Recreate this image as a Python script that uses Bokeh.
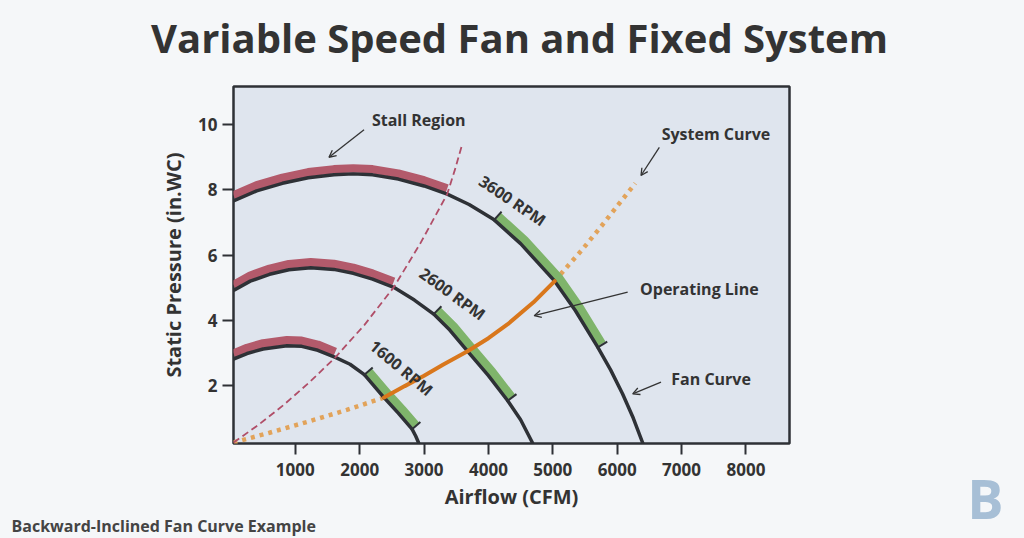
import numpy as np
from bokeh.plotting import figure
from bokeh.layouts import row, column
from bokeh.models import (Range1d, Label, Arrow, OpenHead, FixedTicker, ColumnDataSource, Title)
from bokeh.core.properties import value
from bokeh.transform import dodge
from bokeh.embed import file_html
from bokeh.resources import INLINE

# ---------------- data ----------------
x_ticks = [1000, 2000, 3000, 4000, 5000, 6000, 7000, 8000]
y_ticks = [2, 4, 6, 8, 10]

fan_labels = ["3600 RPM", "2600 RPM", "1600 RPM"]

fan3600_cfm = [40, 400, 800, 1200, 1600, 1900, 2200, 2600, 3000, 3360, 3700, 4090,
               4500, 5030, 5350, 5700, 5900, 6085, 6250, 6400]
fan3600_sp = [7.66, 7.97, 8.20, 8.37, 8.46, 8.49, 8.46, 8.33, 8.12, 7.87, 7.55, 7.08,
              6.35, 5.20, 4.30, 3.17, 2.47, 1.74, 1.00, 0.22]

fan2600_cfm = [40, 300, 600, 900, 1240, 1600, 1900, 2200, 2529, 2850, 3150, 3400,
               3675, 4000, 4300, 4500, 4690]
fan2600_sp = [4.91, 5.20, 5.41, 5.55, 5.61, 5.56, 5.44, 5.26, 5.01, 4.62, 4.19, 3.70,
              3.05, 2.30, 1.53, 0.95, 0.22]

fan1600_cfm = [40, 250, 500, 870, 1100, 1350, 1622, 1850, 2073, 2378, 2600, 2814, 2870, 2920]
fan1600_sp = [2.81, 2.98, 3.12, 3.22, 3.20, 3.08, 2.86, 2.65, 2.33, 1.63, 1.15, 0.66, 0.45, 0.22]

# stall (red) band: from curve start up to this airflow
stall_band_end = [3360, 2529, 1622]
# recommended (green) band
green_band_start = [4090, 3150, 2073]
green_band_end = [5700, 4300, 2814]

stall_cfm = [40, 420, 818, 1220, 1622, 2075, 2529, 2940, 3360, 3480, 3597]
stall_sp = [0.25, 0.78, 1.40, 2.10, 2.86, 3.86, 5.01, 6.35, 7.87, 8.62, 9.43]

system_cfm = [40, 600, 1180, 1800, 2378, 2700, 3000, 3300, 3675, 4000, 4300, 4700,
              5030, 5178, 5450, 5748, 6020, 6282]
system_sp = [0.25, 0.55, 0.88, 1.25, 1.63, 1.98, 2.30, 2.64, 3.05, 3.45, 3.88, 4.55,
             5.20, 5.54, 6.15, 6.87, 7.55, 8.20]
operating_lo, operating_hi = 2378, 5030

rpm_label_x = [4375, 3442, 2649]
rpm_label_y = [7.67, 4.81, 2.54]
rpm_label_angle = [-34, -36, -40]

note_text = ["Stall Region", "System Curve", "Operating Line", "Fan Curve"]
note_x = [2918, 7535, 7277, 7459]
note_y = [10.15, 9.72, 4.96, 2.20]
arrow_x0 = [2068, 6655, 6163, 6681]
arrow_y0 = [9.84, 9.30, 4.86, 2.10]
arrow_x1 = [1523, 6370, 4711, 6241]
arrow_y1 = [9.00, 8.44, 4.14, 1.74]

title_text = "Variable Speed Fan and Fixed System"
footnote_text = "Backward-Inclined Fan Curve Example"
logo_text = "B"

# ---------------- styles ----------------
FONT = "Open Sans"
DARK = "#2e3136"
TXT = "#333333"
RED = "#b35a6b"
GREEN = "#7fb46b"
STALL = "#b04e68"
SYS_DOT = "#e2a35a"
OP = "#d9771c"
BG = "#f5f7f9"

X0, X1 = 40, 8677
Y0, Y1 = 0.22, 11.17
FW, FH = 556, 357
SX = FW / (X1 - X0)
SY = FH / (Y1 - Y0)

W, H = 1024, 538
TOP_H = 70
SIDE_W = 64
MAIN_W = W - SIDE_W
MAIN_H = H - TOP_H


def strip(width, height):
    f = figure(width=width, height=height, x_range=Range1d(0, width), y_range=Range1d(0, height),
               output_backend="svg", toolbar_location=None, x_axis_type=None,
               y_axis_type=None, min_border=0, outline_line_color=None,
               background_fill_color=BG, border_fill_color=BG)
    f.grid.visible = False
    if "frame_align" in f.properties():
        f.frame_align = False
    return f


p = figure(width=MAIN_W, height=MAIN_H, x_range=Range1d(X0, X1), y_range=Range1d(Y0, Y1),
           output_backend="svg", toolbar_location=None,
           min_border_left=233, min_border_right=MAIN_W - 233 - FW, min_border_top=86 - TOP_H,
           min_border_bottom=95,
           background_fill_color="#dfe5ee", border_fill_color=BG,
           outline_line_color=DARK, outline_line_width=2.5)
if "frame_align" in p.properties():
    p.frame_align = False
p.xgrid.visible = False
p.ygrid.visible = False

for ax, ticks in ((p.xaxis, x_ticks), (p.yaxis, y_ticks)):
    ax.ticker = FixedTicker(ticks=ticks)
    ax.axis_line_color = None
    ax.major_tick_out = 11
    ax.major_tick_in = 0
    ax.minor_tick_out = 0
    ax.minor_tick_in = 0
    ax.major_tick_line_color = DARK
    ax.major_tick_line_width = 2
    ax.major_label_text_font = FONT
    ax.major_label_text_font_style = "bold"
    ax.major_label_text_font_size = "17px"
    ax.major_label_text_color = TXT
    ax.axis_label_text_font = FONT
    ax.axis_label_text_font_style = "bold"
    ax.axis_label_text_font_size = "20px"
    ax.axis_label_text_color = TXT

p.xaxis.axis_label = "Airflow (CFM)"
p.yaxis.axis_label = "Static Pressure (in.WC)"
p.xaxis.major_label_standoff = 8
p.xaxis.axis_label_standoff = 4
p.yaxis.major_label_standoff = 5
p.yaxis.axis_label_standoff = 8

p.add_layout(Title(text=footnote_text, align="left", offset=-222, standoff=0,
                   text_font=FONT, text_font_style="bold", text_font_size="16px",
                   text_color="#444444"), "below")

fans = [(fan3600_cfm, fan3600_sp), (fan2600_cfm, fan2600_sp), (fan1600_cfm, fan1600_sp)]


def seg(xs, ys, lo, hi):
    xs = np.asarray(xs, float)
    ys = np.asarray(ys, float)
    m = (xs >= lo) & (xs <= hi)
    return xs[m], ys[m]


# system curve: dotted parts
sx_lo, sy_lo = seg(system_cfm, system_sp, 0, operating_lo)
sx_hi, sy_hi = seg(system_cfm, system_sp, operating_hi, 1e9)
for xs, ys in ((sx_lo, sy_lo), (sx_hi, sy_hi)):
    p.line(xs, ys, line_color=SYS_DOT, line_width=4.5, line_dash="4 5")

# bands
for (cx, cy), r_end, g0, g1 in zip(fans, stall_band_end, green_band_start, green_band_end):
    rx, ry = seg(cx, cy, 0, r_end)
    src = ColumnDataSource(dict(x=rx, y=ry))
    p.line(x="x", y=dodge("y", 5.5 / SY, range=p.y_range), source=src,
           line_color=RED, line_width=8.5)
    gx, gy = seg(cx, cy, g0, g1)
    src = ColumnDataSource(dict(x=gx, y=gy))
    p.line(x=dodge("x", 4.0 / SX, range=p.x_range), y=dodge("y", 3.6 / SY, range=p.y_range),
           source=src, line_color=GREEN, line_width=8.5)
    # end ticks of the green band
    for i0, i1 in ((0, 1), (-1, -2)):
        tx = (gx[i1] - gx[i0]) * SX * (1 if i0 == 0 else -1)
        ty = (gy[i1] - gy[i0]) * SY * (1 if i0 == 0 else -1)
        L = np.hypot(tx, ty)
        nx, ny = -ty / L, tx / L
        p.segment(x0=[gx[i0] - nx * 1.5 / SX], y0=[gy[i0] - ny * 1.5 / SY],
                  x1=[gx[i0] + nx * 11 / SX], y1=[gy[i0] + ny * 11 / SY],
                  line_color=DARK, line_width=2)

# fan curves
for cx, cy in fans:
    p.line(cx, cy, line_color=DARK, line_width=3.5)

# stall line
p.line(stall_cfm, stall_sp, line_color=STALL, line_width=1.8, line_dash="7 4")

# operating line
ox, oy = seg(system_cfm, system_sp, operating_lo, operating_hi)
p.line(ox, oy, line_color=OP, line_width=4, line_cap="round")

# rpm labels
for t, x, y, a in zip(fan_labels, rpm_label_x, rpm_label_y, rpm_label_angle):
    p.add_layout(Label(x=x, y=y, text=t, angle=a, angle_units="deg", text_align="center",
                       text_baseline="middle", text_font=FONT, text_font_style="bold",
                       text_font_size="16px", text_color=TXT))

for t, x, y in zip(note_text, note_x, note_y):
    p.add_layout(Label(x=x, y=y, text=t, text_align="center", text_baseline="middle",
                       text_font=FONT, text_font_style="bold", text_font_size="16px",
                       text_color=TXT))

for xa, ya, xb, yb in zip(arrow_x0, arrow_y0, arrow_x1, arrow_y1):
    p.add_layout(Arrow(end=OpenHead(size=7, line_width=1.3, line_color=TXT),
                       x_start=xa, y_start=ya, x_end=xb, y_end=yb,
                       line_width=1.3, line_color=TXT))

# title strip (pixel coordinates of the strip)
top = strip(W, TOP_H)
top.text(x=[519], y=[TOP_H - 37], text=[title_text], text_font=value(FONT),
         text_font_style="bold", text_font_size="40px", text_color=TXT,
         text_align="center", text_baseline="middle")

# side strip with the logo letter (bottom right corner)
side = strip(SIDE_W, MAIN_H)
side.text(x=[985 - MAIN_W], y=[H - 497], text=[logo_text], text_font=value(FONT),
          text_font_style="bold", text_font_size="54px", text_color="#a7bfd6",
          text_align="center", text_baseline="middle")

layout = column(top, row(p, side, spacing=0, styles={"background-color": BG}),
                spacing=0, styles={"background-color": BG})
open("out.html", "w").write(file_html(layout, INLINE))
